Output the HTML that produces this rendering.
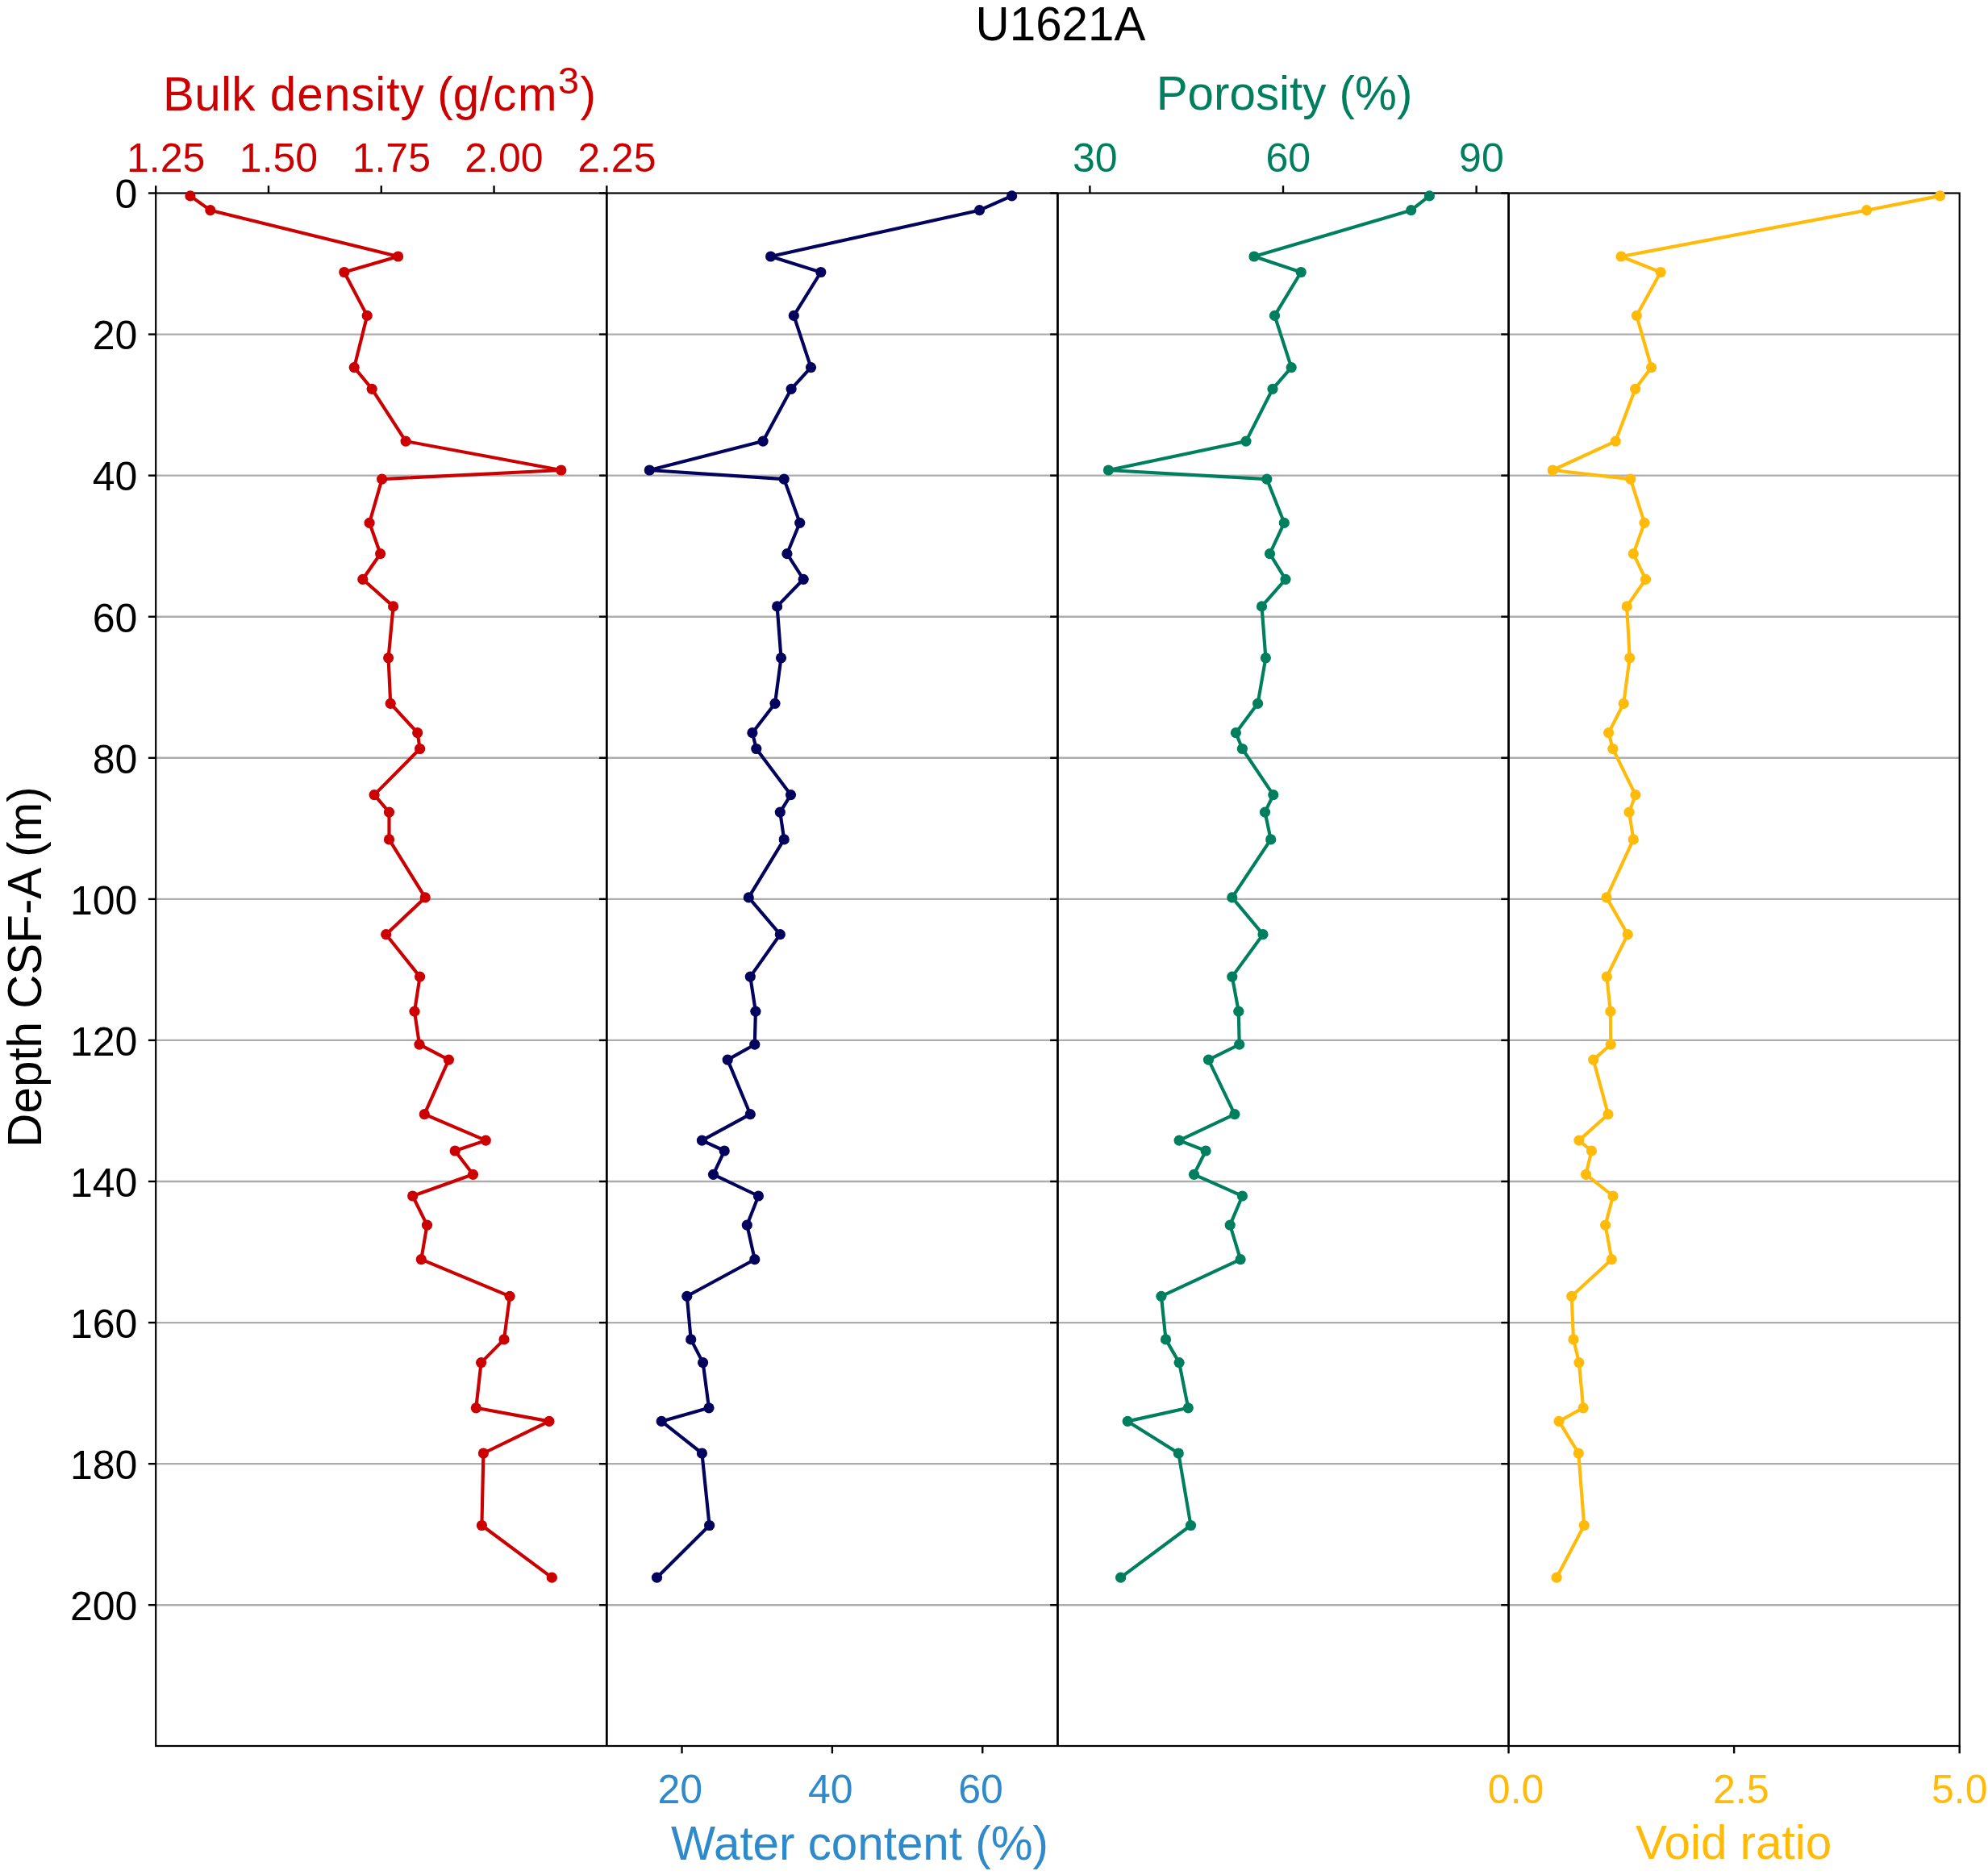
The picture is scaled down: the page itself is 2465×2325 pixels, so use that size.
<!DOCTYPE html>
<html lang="en"><head><meta charset="utf-8"><title>U1621A</title>
<style>html,body{margin:0;padding:0;background:#fff}svg{display:block}text{font-family:"Liberation Sans", sans-serif}</style></head><body>
<svg width="2465" height="2325" viewBox="0 0 2465 2325">
<rect width="2465" height="2325" fill="#fff"/>
<g stroke="#adadad" stroke-width="2.35">
<line x1="193.2" y1="414.57" x2="2429.7" y2="414.57"/>
<line x1="193.2" y1="589.64" x2="2429.7" y2="589.64"/>
<line x1="193.2" y1="764.71" x2="2429.7" y2="764.71"/>
<line x1="193.2" y1="939.78" x2="2429.7" y2="939.78"/>
<line x1="193.2" y1="1114.85" x2="2429.7" y2="1114.85"/>
<line x1="193.2" y1="1289.92" x2="2429.7" y2="1289.92"/>
<line x1="193.2" y1="1464.99" x2="2429.7" y2="1464.99"/>
<line x1="193.2" y1="1640.06" x2="2429.7" y2="1640.06"/>
<line x1="193.2" y1="1815.13" x2="2429.7" y2="1815.13"/>
<line x1="193.2" y1="1990.20" x2="2429.7" y2="1990.20"/>
</g>
<g stroke="#000" stroke-width="2.40" fill="none" stroke-linecap="butt">
<rect x="193.20" y="239.50" width="2236.50" height="1925.50" stroke-width="2.20"/>
<line x1="752.33" y1="239.50" x2="752.33" y2="2165.00" stroke-width="2.80"/>
<line x1="1311.45" y1="239.50" x2="1311.45" y2="2165.00" stroke-width="2.80"/>
<line x1="1870.58" y1="239.50" x2="1870.58" y2="2165.00" stroke-width="2.80"/>
<line x1="183.90" y1="239.50" x2="193.20" y2="239.50"/>
<line x1="183.90" y1="414.57" x2="193.20" y2="414.57"/>
<line x1="183.90" y1="589.64" x2="193.20" y2="589.64"/>
<line x1="183.90" y1="764.71" x2="193.20" y2="764.71"/>
<line x1="183.90" y1="939.78" x2="193.20" y2="939.78"/>
<line x1="183.90" y1="1114.85" x2="193.20" y2="1114.85"/>
<line x1="183.90" y1="1289.92" x2="193.20" y2="1289.92"/>
<line x1="183.90" y1="1464.99" x2="193.20" y2="1464.99"/>
<line x1="183.90" y1="1640.06" x2="193.20" y2="1640.06"/>
<line x1="183.90" y1="1815.13" x2="193.20" y2="1815.13"/>
<line x1="183.90" y1="1990.20" x2="193.20" y2="1990.20"/>
<line x1="743.03" y1="239.50" x2="752.33" y2="239.50"/>
<line x1="743.03" y1="414.57" x2="752.33" y2="414.57"/>
<line x1="743.03" y1="589.64" x2="752.33" y2="589.64"/>
<line x1="743.03" y1="764.71" x2="752.33" y2="764.71"/>
<line x1="743.03" y1="939.78" x2="752.33" y2="939.78"/>
<line x1="743.03" y1="1114.85" x2="752.33" y2="1114.85"/>
<line x1="743.03" y1="1289.92" x2="752.33" y2="1289.92"/>
<line x1="743.03" y1="1464.99" x2="752.33" y2="1464.99"/>
<line x1="743.03" y1="1640.06" x2="752.33" y2="1640.06"/>
<line x1="743.03" y1="1815.13" x2="752.33" y2="1815.13"/>
<line x1="743.03" y1="1990.20" x2="752.33" y2="1990.20"/>
<line x1="1302.15" y1="239.50" x2="1311.45" y2="239.50"/>
<line x1="1302.15" y1="414.57" x2="1311.45" y2="414.57"/>
<line x1="1302.15" y1="589.64" x2="1311.45" y2="589.64"/>
<line x1="1302.15" y1="764.71" x2="1311.45" y2="764.71"/>
<line x1="1302.15" y1="939.78" x2="1311.45" y2="939.78"/>
<line x1="1302.15" y1="1114.85" x2="1311.45" y2="1114.85"/>
<line x1="1302.15" y1="1289.92" x2="1311.45" y2="1289.92"/>
<line x1="1302.15" y1="1464.99" x2="1311.45" y2="1464.99"/>
<line x1="1302.15" y1="1640.06" x2="1311.45" y2="1640.06"/>
<line x1="1302.15" y1="1815.13" x2="1311.45" y2="1815.13"/>
<line x1="1302.15" y1="1990.20" x2="1311.45" y2="1990.20"/>
<line x1="1861.28" y1="239.50" x2="1870.58" y2="239.50"/>
<line x1="1861.28" y1="414.57" x2="1870.58" y2="414.57"/>
<line x1="1861.28" y1="589.64" x2="1870.58" y2="589.64"/>
<line x1="1861.28" y1="764.71" x2="1870.58" y2="764.71"/>
<line x1="1861.28" y1="939.78" x2="1870.58" y2="939.78"/>
<line x1="1861.28" y1="1114.85" x2="1870.58" y2="1114.85"/>
<line x1="1861.28" y1="1289.92" x2="1870.58" y2="1289.92"/>
<line x1="1861.28" y1="1464.99" x2="1870.58" y2="1464.99"/>
<line x1="1861.28" y1="1640.06" x2="1870.58" y2="1640.06"/>
<line x1="1861.28" y1="1815.13" x2="1870.58" y2="1815.13"/>
<line x1="1861.28" y1="1990.20" x2="1870.58" y2="1990.20"/>
<line x1="193.20" y1="230.20" x2="193.20" y2="239.50"/>
<line x1="332.98" y1="230.20" x2="332.98" y2="239.50"/>
<line x1="472.76" y1="230.20" x2="472.76" y2="239.50"/>
<line x1="612.54" y1="230.20" x2="612.54" y2="239.50"/>
<line x1="752.33" y1="230.20" x2="752.33" y2="239.50"/>
<line x1="845.51" y1="2165.00" x2="845.51" y2="2174.30"/>
<line x1="1031.89" y1="2165.00" x2="1031.89" y2="2174.30"/>
<line x1="1218.26" y1="2165.00" x2="1218.26" y2="2174.30"/>
<line x1="1351.39" y1="230.20" x2="1351.39" y2="239.50"/>
<line x1="1591.01" y1="230.20" x2="1591.01" y2="239.50"/>
<line x1="1830.64" y1="230.20" x2="1830.64" y2="239.50"/>
<line x1="1870.58" y1="2165.00" x2="1870.58" y2="2174.30"/>
<line x1="2150.14" y1="2165.00" x2="2150.14" y2="2174.30"/>
<line x1="2429.70" y1="2165.00" x2="2429.70" y2="2174.30"/>
</g>
<g fill="#cc0000" stroke="none"><polyline points="235.9,242.9 260.8,260.7 493.6,318.0 426.8,337.5 455.2,391.4 439.2,455.6 461.2,482.3 503.1,547.1 695.8,583.0 473.6,594.1 458.1,648.3 471.6,686.7 449.8,718.3 487.6,751.9 481.6,815.8 484.2,872.3 517.7,908.7 520.6,928.5 464.1,985.6 482.5,1007.1 482.5,1040.9 527.2,1112.9 478.7,1158.7 520.6,1211.1 514.0,1254.2 520.0,1295.2 556.4,1314.1 526.3,1381.7 602.3,1414.1 564.2,1427.0 586.5,1456.3 511.7,1483.0 529.5,1519.1 522.3,1561.7 632.1,1607.3 625.0,1660.9 596.6,1689.6 590.3,1745.8 680.9,1762.4 599.4,1802.0 597.4,1891.5 684.3,1956.2" fill="none" stroke="#cc0000" stroke-width="4.15" stroke-linejoin="round" stroke-linecap="round"/>
<circle cx="235.9" cy="242.9" r="6.60"/>
<circle cx="260.8" cy="260.7" r="6.60"/>
<circle cx="493.6" cy="318.0" r="6.60"/>
<circle cx="426.8" cy="337.5" r="6.60"/>
<circle cx="455.2" cy="391.4" r="6.60"/>
<circle cx="439.2" cy="455.6" r="6.60"/>
<circle cx="461.2" cy="482.3" r="6.60"/>
<circle cx="503.1" cy="547.1" r="6.60"/>
<circle cx="695.8" cy="583.0" r="6.60"/>
<circle cx="473.6" cy="594.1" r="6.60"/>
<circle cx="458.1" cy="648.3" r="6.60"/>
<circle cx="471.6" cy="686.7" r="6.60"/>
<circle cx="449.8" cy="718.3" r="6.60"/>
<circle cx="487.6" cy="751.9" r="6.60"/>
<circle cx="481.6" cy="815.8" r="6.60"/>
<circle cx="484.2" cy="872.3" r="6.60"/>
<circle cx="517.7" cy="908.7" r="6.60"/>
<circle cx="520.6" cy="928.5" r="6.60"/>
<circle cx="464.1" cy="985.6" r="6.60"/>
<circle cx="482.5" cy="1007.1" r="6.60"/>
<circle cx="482.5" cy="1040.9" r="6.60"/>
<circle cx="527.2" cy="1112.9" r="6.60"/>
<circle cx="478.7" cy="1158.7" r="6.60"/>
<circle cx="520.6" cy="1211.1" r="6.60"/>
<circle cx="514.0" cy="1254.2" r="6.60"/>
<circle cx="520.0" cy="1295.2" r="6.60"/>
<circle cx="556.4" cy="1314.1" r="6.60"/>
<circle cx="526.3" cy="1381.7" r="6.60"/>
<circle cx="602.3" cy="1414.1" r="6.60"/>
<circle cx="564.2" cy="1427.0" r="6.60"/>
<circle cx="586.5" cy="1456.3" r="6.60"/>
<circle cx="511.7" cy="1483.0" r="6.60"/>
<circle cx="529.5" cy="1519.1" r="6.60"/>
<circle cx="522.3" cy="1561.7" r="6.60"/>
<circle cx="632.1" cy="1607.3" r="6.60"/>
<circle cx="625.0" cy="1660.9" r="6.60"/>
<circle cx="596.6" cy="1689.6" r="6.60"/>
<circle cx="590.3" cy="1745.8" r="6.60"/>
<circle cx="680.9" cy="1762.4" r="6.60"/>
<circle cx="599.4" cy="1802.0" r="6.60"/>
<circle cx="597.4" cy="1891.5" r="6.60"/>
<circle cx="684.3" cy="1956.2" r="6.60"/>
</g>
<g fill="#03035e" stroke="none"><polyline points="1254.6,242.9 1214.5,260.7 955.6,318.0 1017.8,337.5 984.3,391.4 1005.5,455.6 981.1,482.3 946.1,547.1 805.3,583.0 972.2,594.1 991.7,648.3 975.9,686.7 996.2,718.3 963.6,751.9 968.5,815.8 961.0,872.3 932.9,908.7 937.8,928.5 980.5,985.6 967.3,1007.1 972.2,1040.9 928.3,1112.9 967.3,1158.7 930.3,1211.1 936.9,1254.2 935.8,1295.2 902.2,1314.1 930.3,1381.7 870.4,1414.1 898.2,1427.0 884.5,1456.3 940.4,1483.0 926.3,1519.1 935.8,1561.7 851.8,1607.3 856.7,1660.9 871.6,1689.6 879.0,1745.8 820.2,1762.4 870.4,1802.0 879.6,1891.5 814.5,1956.2" fill="none" stroke="#03035e" stroke-width="4.15" stroke-linejoin="round" stroke-linecap="round"/>
<circle cx="1254.6" cy="242.9" r="6.60"/>
<circle cx="1214.5" cy="260.7" r="6.60"/>
<circle cx="955.6" cy="318.0" r="6.60"/>
<circle cx="1017.8" cy="337.5" r="6.60"/>
<circle cx="984.3" cy="391.4" r="6.60"/>
<circle cx="1005.5" cy="455.6" r="6.60"/>
<circle cx="981.1" cy="482.3" r="6.60"/>
<circle cx="946.1" cy="547.1" r="6.60"/>
<circle cx="805.3" cy="583.0" r="6.60"/>
<circle cx="972.2" cy="594.1" r="6.60"/>
<circle cx="991.7" cy="648.3" r="6.60"/>
<circle cx="975.9" cy="686.7" r="6.60"/>
<circle cx="996.2" cy="718.3" r="6.60"/>
<circle cx="963.6" cy="751.9" r="6.60"/>
<circle cx="968.5" cy="815.8" r="6.60"/>
<circle cx="961.0" cy="872.3" r="6.60"/>
<circle cx="932.9" cy="908.7" r="6.60"/>
<circle cx="937.8" cy="928.5" r="6.60"/>
<circle cx="980.5" cy="985.6" r="6.60"/>
<circle cx="967.3" cy="1007.1" r="6.60"/>
<circle cx="972.2" cy="1040.9" r="6.60"/>
<circle cx="928.3" cy="1112.9" r="6.60"/>
<circle cx="967.3" cy="1158.7" r="6.60"/>
<circle cx="930.3" cy="1211.1" r="6.60"/>
<circle cx="936.9" cy="1254.2" r="6.60"/>
<circle cx="935.8" cy="1295.2" r="6.60"/>
<circle cx="902.2" cy="1314.1" r="6.60"/>
<circle cx="930.3" cy="1381.7" r="6.60"/>
<circle cx="870.4" cy="1414.1" r="6.60"/>
<circle cx="898.2" cy="1427.0" r="6.60"/>
<circle cx="884.5" cy="1456.3" r="6.60"/>
<circle cx="940.4" cy="1483.0" r="6.60"/>
<circle cx="926.3" cy="1519.1" r="6.60"/>
<circle cx="935.8" cy="1561.7" r="6.60"/>
<circle cx="851.8" cy="1607.3" r="6.60"/>
<circle cx="856.7" cy="1660.9" r="6.60"/>
<circle cx="871.6" cy="1689.6" r="6.60"/>
<circle cx="879.0" cy="1745.8" r="6.60"/>
<circle cx="820.2" cy="1762.4" r="6.60"/>
<circle cx="870.4" cy="1802.0" r="6.60"/>
<circle cx="879.6" cy="1891.5" r="6.60"/>
<circle cx="814.5" cy="1956.2" r="6.60"/>
</g>
<g fill="#007f5f" stroke="none"><polyline points="1772.4,242.9 1749.7,260.7 1555.0,318.0 1613.2,337.5 1580.5,391.4 1601.2,455.6 1578.0,482.3 1545.0,547.1 1374.4,583.0 1570.8,594.1 1592.3,648.3 1574.5,686.7 1594.0,718.3 1564.5,751.9 1569.4,815.8 1559.6,872.3 1532.4,908.7 1540.4,928.5 1578.8,985.6 1568.5,1007.1 1575.7,1040.9 1527.8,1112.9 1566.0,1158.7 1527.8,1211.1 1535.8,1254.2 1536.7,1295.2 1498.5,1314.1 1530.9,1381.7 1462.1,1414.1 1495.1,1427.0 1480.5,1456.3 1540.4,1483.0 1525.2,1519.1 1538.1,1561.7 1439.9,1607.3 1445.5,1660.9 1462.1,1689.6 1473.3,1745.8 1398.2,1762.4 1461.3,1802.0 1476.5,1891.5 1389.6,1956.2" fill="none" stroke="#007f5f" stroke-width="4.15" stroke-linejoin="round" stroke-linecap="round"/>
<circle cx="1772.4" cy="242.9" r="6.60"/>
<circle cx="1749.7" cy="260.7" r="6.60"/>
<circle cx="1555.0" cy="318.0" r="6.60"/>
<circle cx="1613.2" cy="337.5" r="6.60"/>
<circle cx="1580.5" cy="391.4" r="6.60"/>
<circle cx="1601.2" cy="455.6" r="6.60"/>
<circle cx="1578.0" cy="482.3" r="6.60"/>
<circle cx="1545.0" cy="547.1" r="6.60"/>
<circle cx="1374.4" cy="583.0" r="6.60"/>
<circle cx="1570.8" cy="594.1" r="6.60"/>
<circle cx="1592.3" cy="648.3" r="6.60"/>
<circle cx="1574.5" cy="686.7" r="6.60"/>
<circle cx="1594.0" cy="718.3" r="6.60"/>
<circle cx="1564.5" cy="751.9" r="6.60"/>
<circle cx="1569.4" cy="815.8" r="6.60"/>
<circle cx="1559.6" cy="872.3" r="6.60"/>
<circle cx="1532.4" cy="908.7" r="6.60"/>
<circle cx="1540.4" cy="928.5" r="6.60"/>
<circle cx="1578.8" cy="985.6" r="6.60"/>
<circle cx="1568.5" cy="1007.1" r="6.60"/>
<circle cx="1575.7" cy="1040.9" r="6.60"/>
<circle cx="1527.8" cy="1112.9" r="6.60"/>
<circle cx="1566.0" cy="1158.7" r="6.60"/>
<circle cx="1527.8" cy="1211.1" r="6.60"/>
<circle cx="1535.8" cy="1254.2" r="6.60"/>
<circle cx="1536.7" cy="1295.2" r="6.60"/>
<circle cx="1498.5" cy="1314.1" r="6.60"/>
<circle cx="1530.9" cy="1381.7" r="6.60"/>
<circle cx="1462.1" cy="1414.1" r="6.60"/>
<circle cx="1495.1" cy="1427.0" r="6.60"/>
<circle cx="1480.5" cy="1456.3" r="6.60"/>
<circle cx="1540.4" cy="1483.0" r="6.60"/>
<circle cx="1525.2" cy="1519.1" r="6.60"/>
<circle cx="1538.1" cy="1561.7" r="6.60"/>
<circle cx="1439.9" cy="1607.3" r="6.60"/>
<circle cx="1445.5" cy="1660.9" r="6.60"/>
<circle cx="1462.1" cy="1689.6" r="6.60"/>
<circle cx="1473.3" cy="1745.8" r="6.60"/>
<circle cx="1398.2" cy="1762.4" r="6.60"/>
<circle cx="1461.3" cy="1802.0" r="6.60"/>
<circle cx="1476.5" cy="1891.5" r="6.60"/>
<circle cx="1389.6" cy="1956.2" r="6.60"/>
</g>
<g fill="#ffba0a" stroke="none"><polyline points="2405.5,242.9 2314.6,260.7 2010.1,318.0 2059.1,337.5 2029.3,391.4 2047.6,455.6 2027.6,482.3 2003.2,547.1 1925.2,583.0 2021.8,594.1 2039.0,648.3 2025.3,686.7 2040.5,718.3 2017.2,751.9 2020.7,815.8 2013.2,872.3 1994.6,908.7 1999.8,928.5 2027.9,985.6 2020.1,1007.1 2025.3,1040.9 1992.0,1112.9 2018.3,1158.7 1992.3,1211.1 1996.9,1254.2 1997.2,1295.2 1975.7,1314.1 1994.0,1381.7 1957.9,1414.1 1973.4,1427.0 1966.5,1456.3 2000.0,1483.0 1990.6,1519.1 1998.3,1561.7 1948.7,1607.3 1951.0,1660.9 1957.9,1689.6 1963.1,1745.8 1933.0,1762.4 1957.3,1802.0 1964.2,1891.5 1930.1,1956.2" fill="none" stroke="#ffba0a" stroke-width="4.15" stroke-linejoin="round" stroke-linecap="round"/>
<circle cx="2405.5" cy="242.9" r="6.60"/>
<circle cx="2314.6" cy="260.7" r="6.60"/>
<circle cx="2010.1" cy="318.0" r="6.60"/>
<circle cx="2059.1" cy="337.5" r="6.60"/>
<circle cx="2029.3" cy="391.4" r="6.60"/>
<circle cx="2047.6" cy="455.6" r="6.60"/>
<circle cx="2027.6" cy="482.3" r="6.60"/>
<circle cx="2003.2" cy="547.1" r="6.60"/>
<circle cx="1925.2" cy="583.0" r="6.60"/>
<circle cx="2021.8" cy="594.1" r="6.60"/>
<circle cx="2039.0" cy="648.3" r="6.60"/>
<circle cx="2025.3" cy="686.7" r="6.60"/>
<circle cx="2040.5" cy="718.3" r="6.60"/>
<circle cx="2017.2" cy="751.9" r="6.60"/>
<circle cx="2020.7" cy="815.8" r="6.60"/>
<circle cx="2013.2" cy="872.3" r="6.60"/>
<circle cx="1994.6" cy="908.7" r="6.60"/>
<circle cx="1999.8" cy="928.5" r="6.60"/>
<circle cx="2027.9" cy="985.6" r="6.60"/>
<circle cx="2020.1" cy="1007.1" r="6.60"/>
<circle cx="2025.3" cy="1040.9" r="6.60"/>
<circle cx="1992.0" cy="1112.9" r="6.60"/>
<circle cx="2018.3" cy="1158.7" r="6.60"/>
<circle cx="1992.3" cy="1211.1" r="6.60"/>
<circle cx="1996.9" cy="1254.2" r="6.60"/>
<circle cx="1997.2" cy="1295.2" r="6.60"/>
<circle cx="1975.7" cy="1314.1" r="6.60"/>
<circle cx="1994.0" cy="1381.7" r="6.60"/>
<circle cx="1957.9" cy="1414.1" r="6.60"/>
<circle cx="1973.4" cy="1427.0" r="6.60"/>
<circle cx="1966.5" cy="1456.3" r="6.60"/>
<circle cx="2000.0" cy="1483.0" r="6.60"/>
<circle cx="1990.6" cy="1519.1" r="6.60"/>
<circle cx="1998.3" cy="1561.7" r="6.60"/>
<circle cx="1948.7" cy="1607.3" r="6.60"/>
<circle cx="1951.0" cy="1660.9" r="6.60"/>
<circle cx="1957.9" cy="1689.6" r="6.60"/>
<circle cx="1963.1" cy="1745.8" r="6.60"/>
<circle cx="1933.0" cy="1762.4" r="6.60"/>
<circle cx="1957.3" cy="1802.0" r="6.60"/>
<circle cx="1964.2" cy="1891.5" r="6.60"/>
<circle cx="1930.1" cy="1956.2" r="6.60"/>
</g>
<g font-size="50" text-anchor="middle">
<g fill="#cc0000">
<text x="205.7" y="213.0">1.25</text>
<text x="345.5" y="213.0">1.50</text>
<text x="485.3" y="213.0">1.75</text>
<text x="625.0" y="213.0">2.00</text>
<text x="764.8" y="213.0">2.25</text>
</g><g fill="#2f8acb">
<text x="843.3" y="2235.5">20</text>
<text x="1029.7" y="2235.5">40</text>
<text x="1216.1" y="2235.5">60</text>
</g><g fill="#007f5f">
<text x="1357.7" y="213.0">30</text>
<text x="1597.3" y="213.0">60</text>
<text x="1836.9" y="213.0">90</text>
</g><g fill="#ffba0a">
<text x="1879.6" y="2235.5">0.0</text>
<text x="2158.7" y="2235.5">2.5</text>
<text x="2429.7" y="2235.5">5.0</text>
</g></g>
<g font-size="50" text-anchor="end" fill="#000">
<text x="170.4" y="258.3">0</text>
<text x="170.4" y="433.4">20</text>
<text x="170.4" y="608.4">40</text>
<text x="170.4" y="783.5">60</text>
<text x="170.4" y="958.6">80</text>
<text x="170.4" y="1133.6">100</text>
<text x="170.4" y="1308.7">120</text>
<text x="170.4" y="1483.8">140</text>
<text x="170.4" y="1658.9">160</text>
<text x="170.4" y="1833.9">180</text>
<text x="170.4" y="2009.0">200</text>
</g>
<g font-size="58.33" text-anchor="middle">
<text x="1315.0" y="49.8" fill="#000">U1621A</text>
<text x="202.1" y="136.7" fill="#cc0000" text-anchor="start" dx="0 .3 .3 .3 1 1 1.1 1.2 .8 .9 1 1.1 .2 .2 0 .6 .2 1.5">Bulk density (g/cm<tspan font-size="46.66" dx="1.5" dy="-20.5">3</tspan><tspan dx="1.5" dy="20.5">)</tspan></text>
<text x="1592.5" y="136.4" fill="#007f5f">Porosity (%)</text>
<text x="1066.0" y="2305.5" fill="#2f8acb">Water content (%)</text>
<text x="2149.5" y="2305.0" fill="#ffba0a">Void ratio</text>
<text transform="translate(50.5,1199) rotate(-90)" fill="#000">Depth CSF-A (m)</text>
</g>
</svg></body></html>
